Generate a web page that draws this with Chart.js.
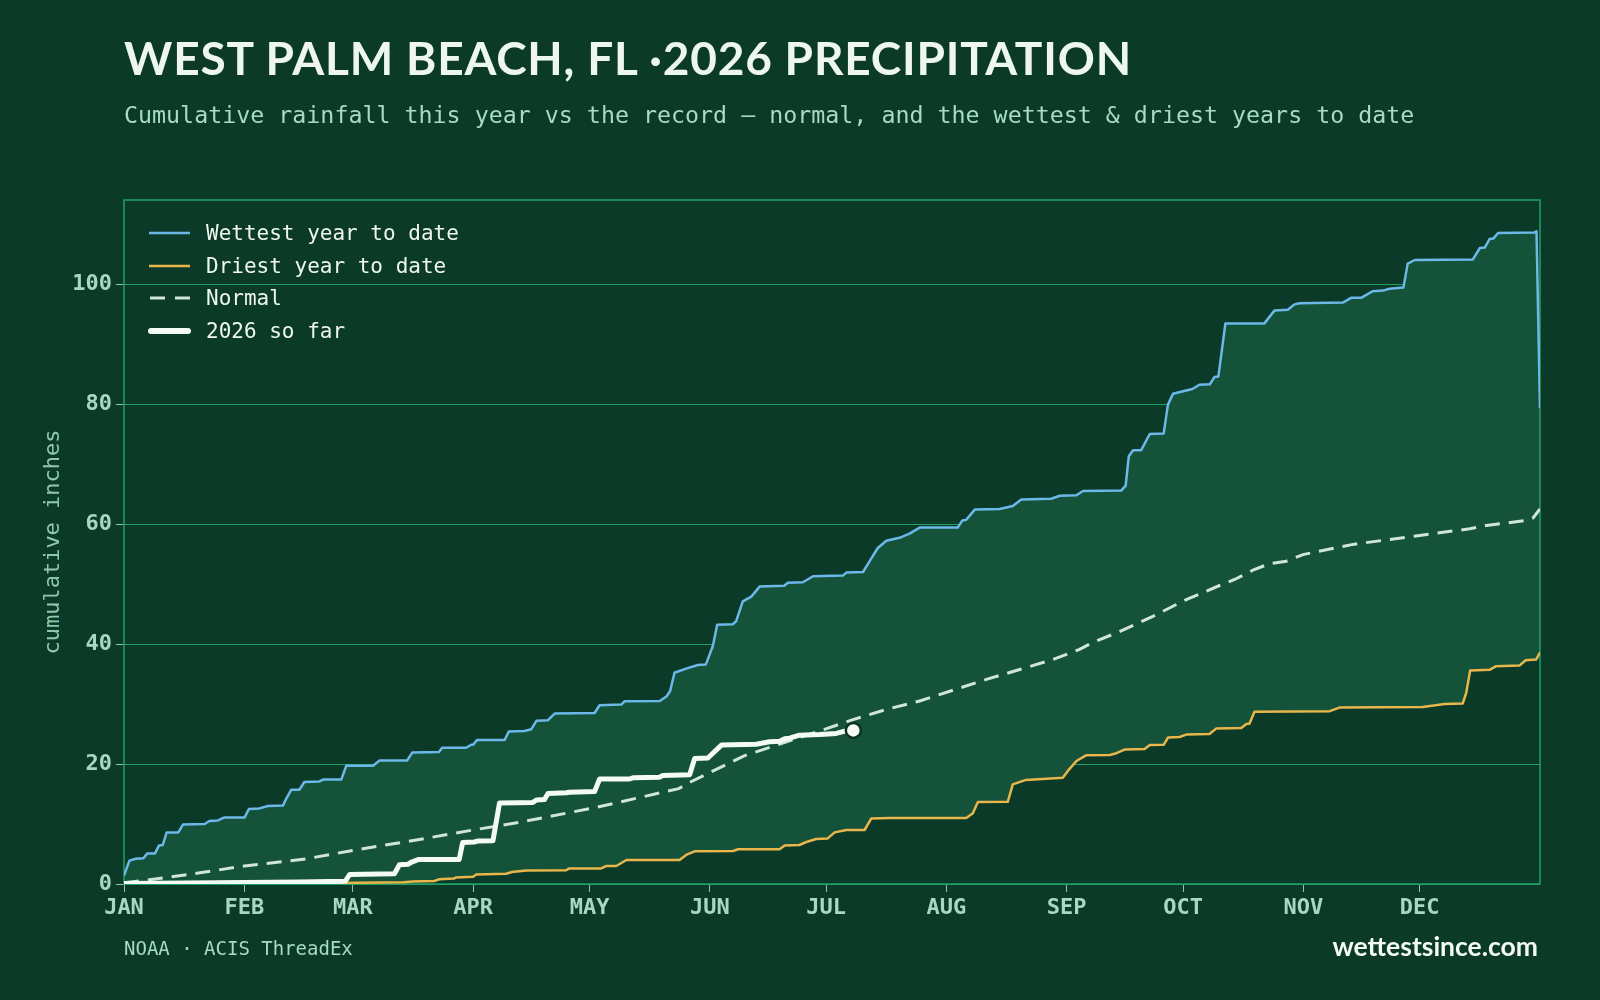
<!DOCTYPE html>
<html>
<head>
<meta charset="utf-8">
<script src="https://cdn.jsdelivr.net/npm/chart.js@4.4.1/dist/chart.umd.min.js"></script>
<style>
  html, body { margin: 0; padding: 0; background: #0c3a29; }
  body { width: 1600px; height: 1000px; position: relative; overflow: hidden; }
  #title { position: absolute; left: 124px; top: 30px; font: 700 46px Lato, sans-serif; letter-spacing: 0.8px; color: #eef7ef; white-space: nowrap; line-height: 1.2; }
  #subtitle { position: absolute; left: 124px; top: 101px; font: 400 23.3px "DejaVu Sans Mono", monospace; color: #a6dcc0; white-space: nowrap; }
  #c { position: absolute; left: 0; top: 0; }
  #legend { position: absolute; left: 147px; top: 217px; font: 400 21px "DejaVu Sans Mono", monospace; color: #eef6ef; }
  .li { height: 32.6px; display: flex; align-items: center; }
  .li svg { margin-right: 15px; }
  #source { position: absolute; left: 124px; top: 937px; font: 400 19px "DejaVu Sans Mono", monospace; color: #a6dcc0; white-space: nowrap; }
  #site { position: absolute; right: 62px; top: 930px; font: 700 26.5px Lato, sans-serif; color: #f4faf4; white-space: nowrap; }
</style>
</head>
<body>
<canvas id="c" width="1600" height="1000"></canvas>
<div id="title">WEST PALM BEACH, FL ·2026 PRECIPITATION</div>
<div id="subtitle">Cumulative rainfall this year vs the record — normal, and the wettest &amp; driest years to date</div>
<div id="legend">
  <div class="li"><svg width="44" height="10"><line x1="2" y1="5" x2="43" y2="5" stroke="#6cb8e8" stroke-width="2.5"/></svg>Wettest year to date</div>
  <div class="li"><svg width="44" height="10"><line x1="2" y1="5" x2="43" y2="5" stroke="#e8b64a" stroke-width="2.5"/></svg>Driest year to date</div>
  <div class="li"><svg width="44" height="10"><line x1="3" y1="5" x2="43" y2="5" stroke="#cfe6d8" stroke-width="3" stroke-dasharray="15 10"/></svg>Normal</div>
  <div class="li"><svg width="44" height="10"><line x1="4" y1="5" x2="41" y2="5" stroke="#f4fbf6" stroke-width="6" stroke-linecap="round"/></svg>2026 so far</div>
</div>
<div id="source">NOAA · ACIS ThreadEx</div>
<div id="site">wettestsince.com</div>
<script>
// ---- Data (day of year from Jan 1 = 0, cumulative inches) ----
const monthDays   = [0, 31, 59, 90, 120, 151, 181, 212, 243, 273, 304, 334];
const monthLabels = ['JAN','FEB','MAR','APR','MAY','JUN','JUL','AUG','SEP','OCT','NOV','DEC'];
const yTicks      = [0, 20, 40, 60, 80, 100];

const wettestDays = [0,1.4,3,5,6,8,9,10,11,14,15.2,20.8,22,24.2,25.9,31.1,32.2,34.9,37.1,41,41.8,43.1,45.2,46.5,50.4,51.3,56,57.3,64.2,65.9,73,74.3,81.2,82,88.2,89.5,90,91,98.1,99.2,103.2,105,106.3,109.3,111,121.3,122.6,
  128.2,129,138.1,139.9,140.8,141.9,144.9,147.9,150,151.8,152.9,156.9,157.8,159.5,161.7,163.9,170.2,171.1,175,177.6,185.3,186.2,190.5,192.2,194.3,196.5,199.9,202.5,205.1,214.9,216.1,217.1,219.3,225.7,229.1,231.3,239,241.2,
  245.5,247.2,257.1,258.2,259,260.1,262.2,264.4,268,269.1,270.4,275.4,277.2,279.9,281.1,282.1,283.9,293.9,296.6,300,301.7,303,314.2,316.3,318.9,321.9,324.5,326.2,329.8,330.9,332.7,347.7,349.5,350.8,352,353,354.2,363.6,364.1,365];
const wettestInches = [1.4,3.9,4.2,4.3,5.1,5.1,6.4,6.5,8.6,8.6,9.9,10.0,10.5,10.6,11.1,11.1,12.5,12.6,13.0,13.1,14.2,15.7,15.7,17.0,17.1,17.4,17.4,19.7,19.7,20.6,20.6,21.9,22.0,22.7,22.7,23.2,23.2,24.0,24.0,25.4,25.5,25.8,27.2,27.3,28.4,28.5,29.8,
  29.9,30.45,30.5,31.3,32.2,35.2,35.9,36.5,36.6,39.7,43.2,43.3,43.8,47.1,47.9,49.6,49.7,50.2,50.3,51.3,51.4,51.9,52.0,53.8,56.0,57.2,57.7,58.4,59.4,59.4,60.6,60.7,62.4,62.5,63.0,64.1,64.2,64.7,
  64.8,65.5,65.6,66.4,71.3,72.3,72.3,75.0,75.1,79.9,81.7,82.5,83.2,83.3,84.5,84.6,93.4,93.4,95.6,95.7,96.6,96.8,96.9,97.7,97.7,98.8,98.9,99.2,99.4,103.4,104.0,104.1,106.0,106.1,107.5,107.6,108.5,108.6,108.8,79.3];

const driestDays = [0,40,60,72,74.5,80,81.3,85,85.6,90,90.8,98.5,100,103.7,114,114.8,123,124.3,126.9,129.5,143.2,144.9,147.1,157,158.3,169,170.3,174.1,175.9,178.4,181.4,183.2,186.2,190.9,192.6,197.4,217.1,218.8,220.1,227.8,229.1,232.5,
  242,243.3,245.5,248,254.1,255.8,257.9,263.1,264.4,268,269.1,272.1,273.8,279.8,281.5,288,289.3,290.1,291.4,310.8,313.3,334.8,340.4,345.1,346,347,352,353.7,359.7,361.3,364,365];
const driestInches = [0,0.05,0.2,0.3,0.4,0.5,0.8,0.9,1.1,1.2,1.6,1.7,2.0,2.25,2.3,2.6,2.6,3.0,3.0,4.0,4.0,4.85,5.45,5.5,5.8,5.8,6.4,6.5,7.0,7.5,7.6,8.6,9.0,9.0,10.9,11.0,11.0,11.8,13.65,13.7,16.6,17.35,
  17.7,18.85,20.5,21.45,21.5,21.8,22.4,22.5,23.15,23.2,24.4,24.5,24.9,25.0,25.9,26.0,26.65,26.7,28.7,28.8,29.4,29.5,30.0,30.1,31.9,35.6,35.7,36.3,36.4,37.3,37.4,38.6];

const normalDays   = [0,9,20,31,47,59,75,90,102,122,143,146,160,179.3,187.9,196.5,205.1,213.7,222.3,230.9,239.4,246.3,249.8,256.6,265.2,273.8,282.4,286.3,291,295.3,299.6,303.9,316.8,334,346.9,351.2,361.5,363.2,365];
const normalInches = [0.2,0.9,1.9,3.0,4.2,5.6,7.3,9.0,10.3,12.8,15.9,17.0,21.4,25.5,27.4,29.1,30.5,32.3,34.1,35.75,37.4,39.1,40.3,42.05,44.6,47.4,49.75,50.75,52.3,53.4,53.8,54.9,56.6,58.1,59.2,59.75,60.6,61.0,62.5];

const y2026Days   = [0,24,45,57,58.2,69.7,71,73.2,74.3,76,86.4,87.3,90.3,91.1,95.1,96.8,105.4,106.3,108.4,109.3,114,114.8,121.3,122.6,130.3,131.2,138.1,138.9,145.8,147.1,150.5,154,163,166.4,169,170.3,171.6,174.1,179.3,183.6,185.3,188];
const y2026Inches = [0.1,0.2,0.35,0.45,1.6,1.7,3.2,3.3,3.7,4.1,4.1,6.9,7.0,7.15,7.2,13.5,13.6,14.0,14.1,15.1,15.2,15.3,15.4,17.5,17.5,17.7,17.8,18.1,18.2,20.9,21.0,23.15,23.3,23.7,23.8,24.2,24.3,24.8,24.9,25.1,25.4,25.6];

// ---- Build chart ----
const pts = (xs, ys) => xs.map((x, i) => ({ x: x, y: ys[i] }));

const GRID = '#20a066';
const TICKC = '#a8d8bf';
const lastIdx = y2026Days.length - 1;

const framePlugin = {
  id: 'frame',
  beforeDatasetsDraw(chart) {
    const a = chart.chartArea, ctx = chart.ctx;
    ctx.save();
    ctx.strokeStyle = GRID;
    ctx.lineWidth = 1.5;
    ctx.strokeRect(a.left, a.top, a.right - a.left, a.bottom - a.top);
    ctx.restore();
  }
};

new Chart(document.getElementById('c'), {
  type: 'line',
  data: {
    datasets: [
      {
        label: '2026 so far',
        data: pts(y2026Days, y2026Inches),
        borderColor: '#f4fbf6',
        borderWidth: 5,
        borderJoinStyle: 'round',
        borderCapStyle: 'round',
        pointRadius: (c) => c.dataIndex === lastIdx ? 7.5 : 0,
        pointBackgroundColor: '#f4fbf6',
        pointBorderColor: '#0b3324',
        pointBorderWidth: 2.5,
        fill: false,
        tension: 0
      },
      {
        label: 'Normal',
        data: pts(normalDays, normalInches),
        borderColor: '#cfe6d8',
        borderWidth: 3,
        borderDash: [15, 9],
        pointRadius: 0,
        fill: false,
        tension: 0
      },
      {
        label: 'Wettest year to date',
        data: pts(wettestDays, wettestInches),
        borderColor: '#6cb8e8',
        borderWidth: 2.5,
        borderJoinStyle: 'round',
        pointRadius: 0,
        fill: { target: '+1' },
        backgroundColor: '#14523a',
        tension: 0
      },
      {
        label: 'Driest year to date',
        data: pts(driestDays, driestInches),
        borderColor: '#e8b64a',
        borderWidth: 2.5,
        borderJoinStyle: 'round',
        pointRadius: 0,
        fill: false,
        tension: 0
      }
    ]
  },
  options: {
    responsive: false,
    maintainAspectRatio: false,
    animation: false,
    events: [],
    layout: { padding: { left: 0, right: 60, top: 200, bottom: 0 } },
    plugins: {
      legend: { display: false },
      tooltip: { enabled: false },
      filler: { drawTime: 'beforeDatasetsDraw' }
    },
    scales: {
      x: {
        type: 'linear',
        min: 0,
        max: 365,
        afterBuildTicks: (s) => { s.ticks = monthDays.map(v => ({ value: v })); },
        afterFit: (s) => { s.height = 116; },
        ticks: {
          autoSkip: false,
          maxRotation: 0,
          padding: 3,
          color: TICKC,
          font: { family: 'DejaVu Sans Mono', weight: 'bold', size: 22 },
          callback: (v) => monthLabels[monthDays.indexOf(v)]
        },
        grid: { drawOnChartArea: false, drawTicks: true, tickLength: 8, tickColor: '#8fc4a8', tickWidth: 1 },
        border: { display: false }
      },
      y: {
        min: 0,
        max: 114,
        afterBuildTicks: (s) => { s.ticks = yTicks.map(v => ({ value: v })); },
        afterFit: (s) => { s.width = 124; },
        ticks: {
          padding: 4,
          color: TICKC,
          font: { family: 'DejaVu Sans Mono', weight: 'bold', size: 22 }
        },
        grid: { color: GRID, lineWidth: 1, drawTicks: true, tickLength: 8, tickColor: '#8fc4a8' },
        border: { display: false },
        title: {
          display: true,
          text: 'cumulative inches',
          color: '#8fc9aa',
          font: { family: 'DejaVu Sans Mono', size: 22, weight: 'normal' },
          padding: { top: 40, bottom: 0 }
        }
      }
    }
  },
  plugins: [framePlugin]
});
</script>
</body>
</html>
